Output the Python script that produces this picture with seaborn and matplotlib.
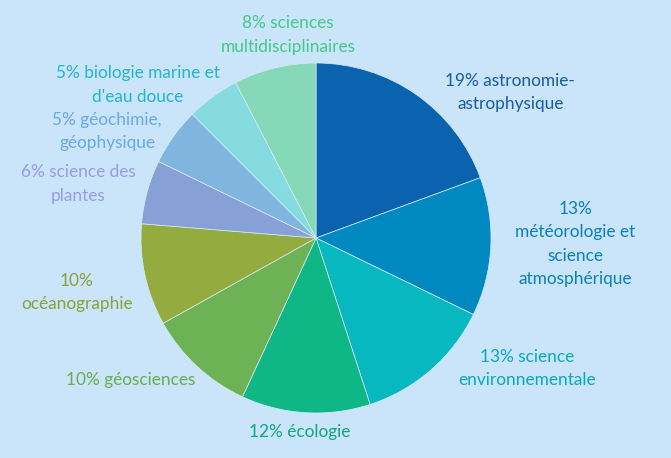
import numpy as np
import pandas as pd
import seaborn as sns
import matplotlib
matplotlib.use("Agg")
import matplotlib.pyplot as plt

# share of papers per field, order = clockwise from top
fields = ["astronomie-\nastrophysique",
          "météorologie et\nscience\natmosphérique",
          "science\nenvironnementale",
          "écologie",
          "géosciences",
          "océanographie",
          "science des\nplantes",
          "géochimie,\ngéophysique",
          "biologie marine et\nd'eau douce",
          "sciences\nmultidisciplinaires"]
shares = [19.4, 12.8, 12.8, 11.9, 10.0, 9.4, 5.9, 5.3, 4.9, 7.6]
pct_labels = ["19%", "13%", "13%", "12%", "10%", "10%", "6%", "5%", "5%", "8%"]
# 1 = percentage on its own line
pct_own_line = [0, 1, 0, 0, 0, 1, 0, 0, 0, 0]

slice_colors = ["#0b62ae", "#0089c0", "#08b8c1", "#0fb787", "#6db356",
                "#94ab40", "#87a0d6", "#80b5e0", "#86dbe0", "#86d9b8"]
text_colors = ["#1a5c9e", "#0a80b6", "#0aa9bd", "#12a67e", "#68ac4c",
               "#8c9f38", "#9b9ae6", "#6aa8e6", "#22b5cf", "#45c985"]
# label anchor points in pie units (radius = 1)
label_pos = [(1.11, 0.83), (1.483, -0.034), (1.206, -0.746), (-0.091, -1.109),
             (-1.057, -0.811), (-1.366, -0.309), (-1.36, 0.309),
             (-1.194, 0.611), (-1.017, 0.874), (-0.16, 1.16)]

df = pd.DataFrame({"field": fields, "share": shares, "pct": pct_labels})

bg = "#cae4fa"
sns.set_theme(style="white")
plt.rcParams['font.family'] = ['Lato', 'DejaVu Sans']

fig = plt.figure(figsize=(6.71, 4.58), dpi=100, facecolor=bg)
ax = fig.add_axes([0, 0, 1, 1])
ax.set_facecolor(bg)

ax.pie(df["share"], colors=slice_colors, startangle=90, counterclock=False,
       radius=1, wedgeprops=dict(edgecolor="#d6ecf5", linewidth=0.5))

for i, row in df.iterrows():
    sep = "\n" if pct_own_line[i] else " "
    txt = row["pct"] + sep + row["field"]
    x, y = label_pos[i]
    ax.text(x, y, txt, ha="center", va="center", color=text_colors[i],
            fontsize=12.4, linespacing=1.55, multialignment="center")

ax.set_xlim(-316 / 175, (671 - 316) / 175)
ax.set_ylim(-(458 - 238) / 175, 238 / 175)
ax.set_aspect("equal", adjustable="datalim")
ax.axis("off")

fig.savefig("out.png", dpi=100, facecolor=bg)
